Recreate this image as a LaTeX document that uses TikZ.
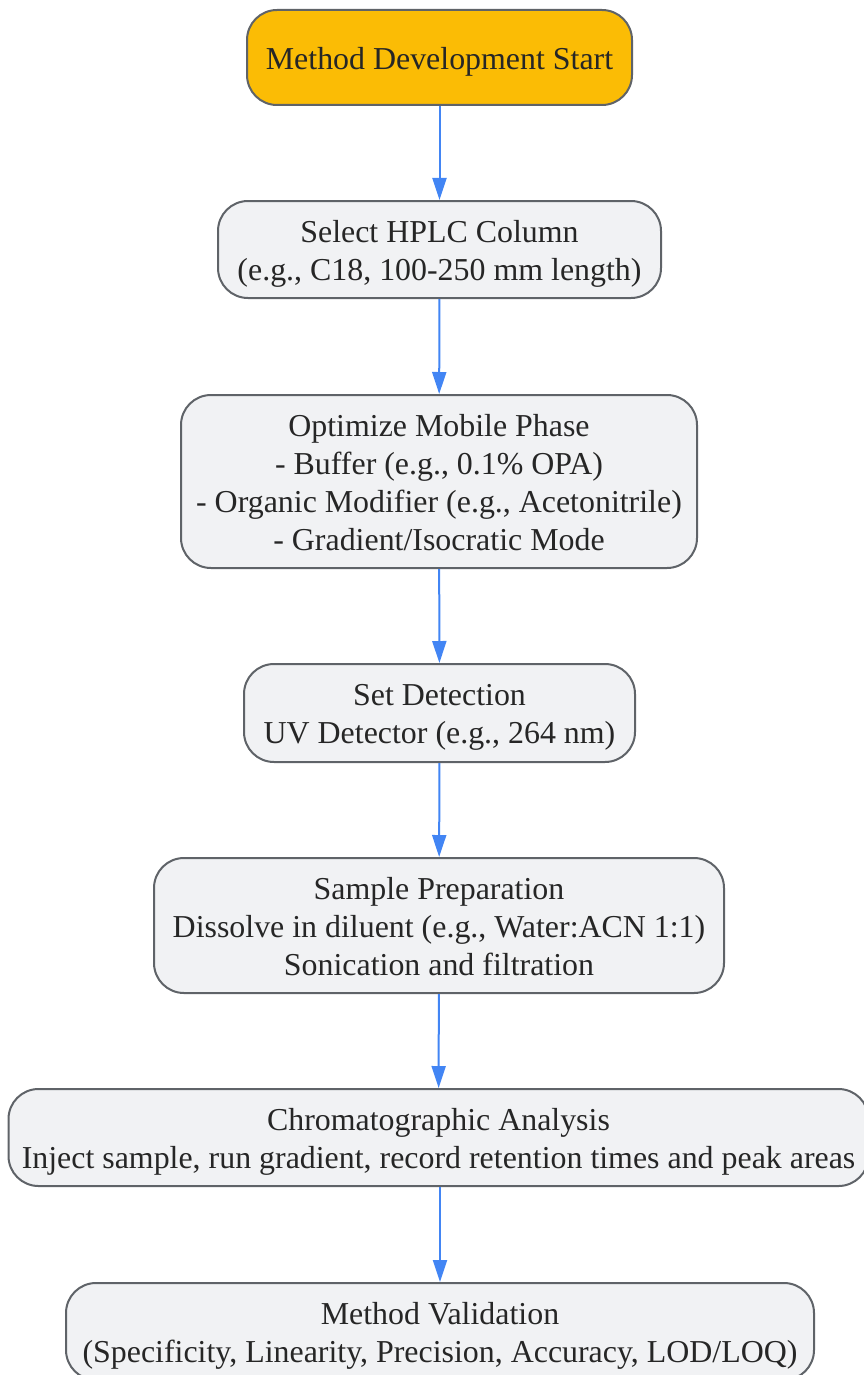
\documentclass[tikz,border=0pt]{standalone}
\usepackage{fontspec}
\setmainfont{Liberation Serif}
\usetikzlibrary{shapes,arrows.meta,positioning,calc}

% same height and depth for every text line
\newcommand{\linestrut}{\rule[-6.9pt]{0pt}{37.4pt}}

\begin{document}
\begin{tikzpicture}[x=1pt,y=-1pt]
        % Colours of the flow chart
        \definecolor{startyellow}{RGB}{251,188,5}
        \definecolor{boxgray}{RGB}{241,242,244}
        \definecolor{edgegray}{RGB}{95,99,104}
        \definecolor{flowblue}{RGB}{66,133,244}

        \tikzset{
            stepbox/.style={rectangle, rounded corners=30pt, draw=edgegray, line width=2pt,
                fill=boxgray, text=black!85, align=center, inner sep=0pt,
                font=\fontsize{31.9}{38}\selectfont},
            flow/.style={flowblue, line width=2pt, -{Triangle[length=22pt,width=14pt]}}
        }

        \useasboundingbox (0,0) rectangle (864,1375);

        % Start of method development
        \node[stepbox, fill=startyellow, minimum width=385pt, minimum height=95pt] (start) at (439.5,57.5) {\linestrut Method Development Start};

        % Column selection
        \node[stepbox, minimum width=443pt, minimum height=97pt] (column) at (439.5,249.5) {\linestrut Select HPLC Column\\\linestrut (e.g., C18, 100-250 mm length)};

        % Mobile phase
        \node[stepbox, minimum width=516pt, minimum height=173pt] (phase) at (439,481.5) {\linestrut Optimize Mobile Phase\\\linestrut - Buffer (e.g., 0.1\% OPA)\\\linestrut - Organic Modifier (e.g., Acetonitrile)\\\linestrut - Gradient/Isocratic Mode};

        % Detection
        \node[stepbox, minimum width=391pt, minimum height=98pt] (detect) at (439.5,713) {\linestrut Set Detection\\\linestrut UV Detector (e.g., 264 nm)};

        % Sample preparation
        \node[stepbox, minimum width=570pt, minimum height=135pt] (sample) at (439,925.5) {\linestrut Sample Preparation\\\linestrut Dissolve in diluent (e.g., Water:ACN 1:1)\\\linestrut Sonication and filtration};

        % Chromatographic analysis
        \node[stepbox, minimum width=860pt, minimum height=97pt] (analysis) at (438.5,1137.5) {\linestrut Chromatographic Analysis\\\linestrut Inject sample, run gradient, record retention times and peak areas};

        % Validation
        \node[stepbox, minimum width=748pt, minimum height=97pt] (valid) at (440,1331.5) {\linestrut Method Validation\\\linestrut (Specificity, Linearity, Precision, Accuracy, LOD/LOQ)};

        % Connecting arrows
        \draw[flow] (start) -- (column);
        \draw[flow] (column) -- (phase);
        \draw[flow] (phase) -- (detect);
        \draw[flow] (detect) -- (sample);
        \draw[flow] (sample) -- (analysis);
        \draw[flow] (analysis.south -| valid) -- (valid);
    \end{tikzpicture}
\end{document}
